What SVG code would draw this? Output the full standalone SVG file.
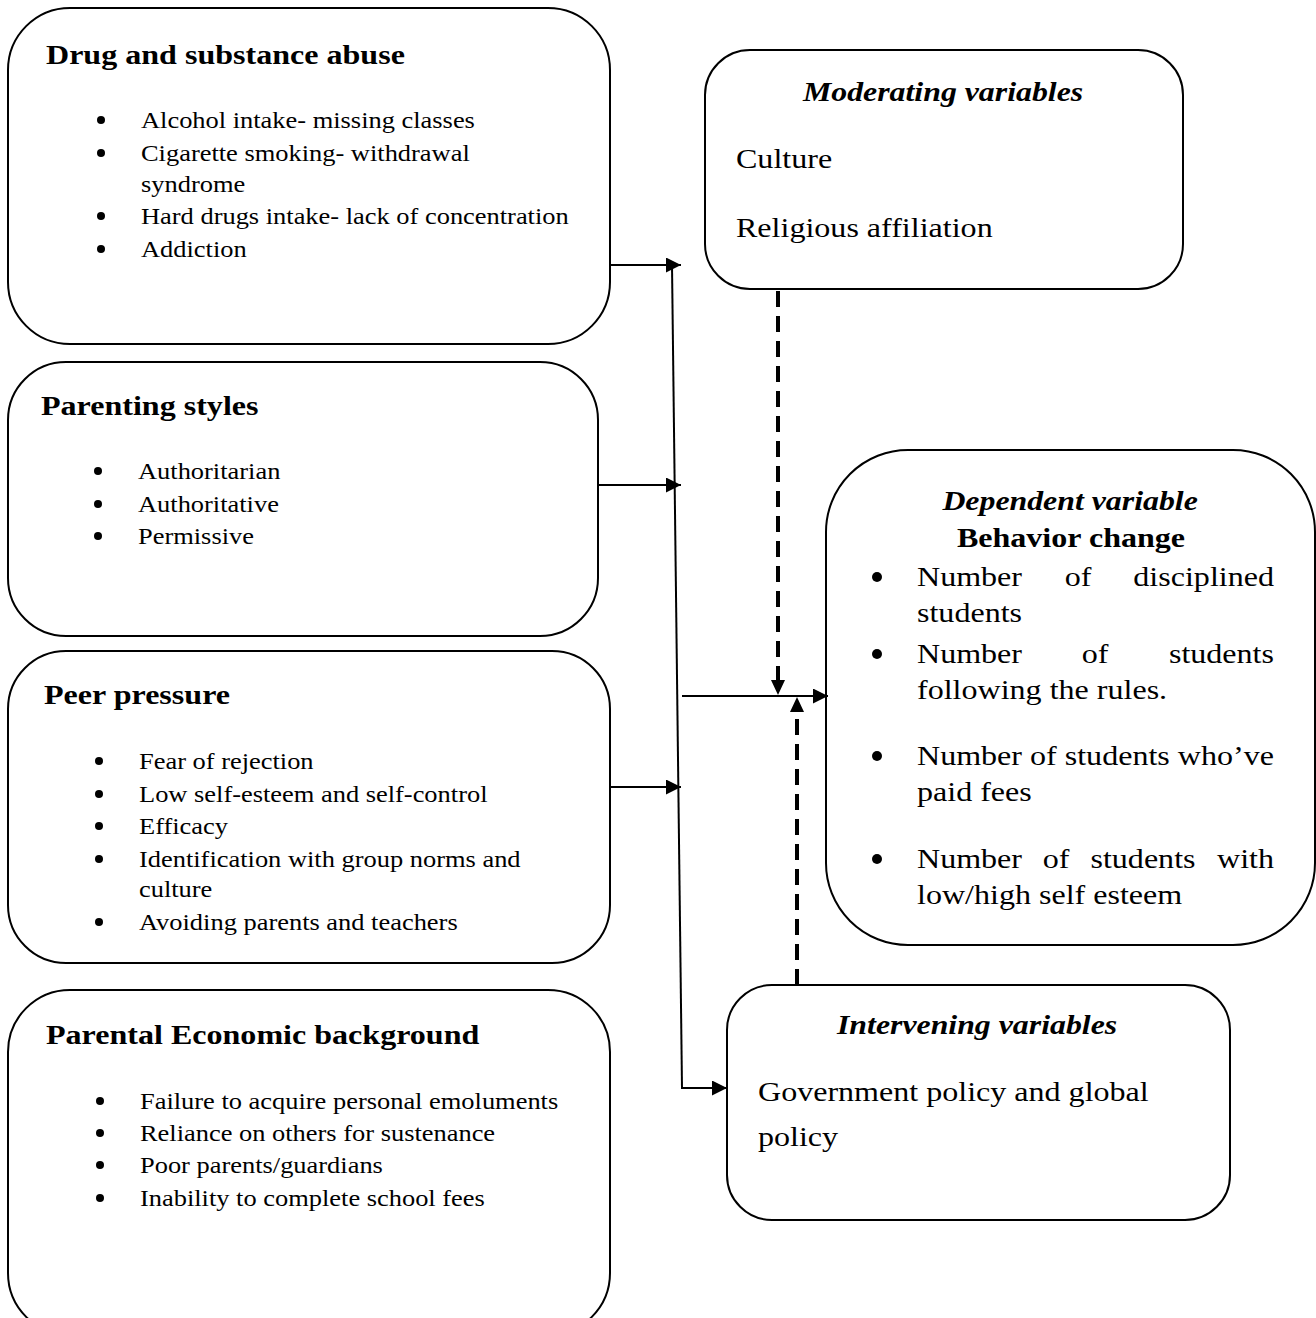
<svg xmlns="http://www.w3.org/2000/svg" width="1316" height="1318" viewBox="0 0 1316 1318">
<style>
.box{fill:#fff;stroke:#000;stroke-width:2}
text{font-family:"Liberation Serif","Times New Roman",serif;fill:#000;transform-box:fill-box;transform-origin:0 0;transform:scaleX(1.17)}
text.c{text-anchor:middle;transform-origin:50% 0}
text.e{text-anchor:end;transform-origin:100% 0}
.h{font-size:27.4px;font-weight:bold}
.b{font-size:22.6px}
.m{font-size:27.4px}
.hi{font-size:27.2px;font-weight:bold;font-style:italic}
.dot{fill:#000}
.ln{stroke:#000;stroke-width:2;fill:none}
.dash{stroke:#000;stroke-width:4;fill:none;stroke-dasharray:16 9}
</style>
<defs>
<marker id="arr" markerUnits="userSpaceOnUse" markerWidth="16" markerHeight="16" refX="15" refY="7.5" orient="auto">
<path d="M0,0 L15,7.5 L0,15 Z" fill="#000"/>
</marker>
</defs>
<rect width="1316" height="1318" fill="#fff"/>

<g id="drug">
<rect class="box" x="8" y="8" width="602" height="336" rx="62"/>
<text class="h" x="46" y="64">Drug and substance abuse</text>
<circle class="dot" cx="101" cy="120" r="4"/><text class="b" x="141" y="128">Alcohol intake- missing classes</text>
<circle class="dot" cx="101" cy="153" r="4"/><text class="b" x="141" y="161">Cigarette smoking- withdrawal</text>
<text class="b" x="141" y="192">syndrome</text>
<circle class="dot" cx="101" cy="216" r="4"/><text class="b" x="141" y="224">Hard drugs intake- lack of concentration</text>
<circle class="dot" cx="101" cy="249" r="4"/><text class="b" x="141" y="257">Addiction</text>
</g>

<g id="parenting">
<rect class="box" x="8" y="362" width="590" height="274" rx="58"/>
<text class="h" x="41" y="415">Parenting styles</text>
<circle class="dot" cx="98" cy="471" r="4"/><text class="b" x="138" y="479">Authoritarian</text>
<circle class="dot" cx="98" cy="504" r="4"/><text class="b" x="138" y="512">Authoritative</text>
<circle class="dot" cx="98" cy="536" r="4"/><text class="b" x="138" y="544">Permissive</text>
</g>

<g id="peer">
<rect class="box" x="8" y="651" width="602" height="312" rx="58"/>
<text class="h" x="44" y="704">Peer pressure</text>
<circle class="dot" cx="99" cy="761" r="4"/><text class="b" x="139" y="769">Fear of rejection</text>
<circle class="dot" cx="99" cy="794" r="4"/><text class="b" x="139" y="802">Low self-esteem and self-control</text>
<circle class="dot" cx="99" cy="826" r="4"/><text class="b" x="139" y="834">Efficacy</text>
<circle class="dot" cx="99" cy="859" r="4"/><text class="b" x="139" y="867">Identification with group norms and</text>
<text class="b" x="139" y="897">culture</text>
<circle class="dot" cx="99" cy="922" r="4"/><text class="b" x="139" y="930">Avoiding parents and teachers</text>
</g>

<g id="economic">
<rect class="box" x="8" y="990" width="602" height="345" rx="62"/>
<text class="h" x="46" y="1044">Parental Economic background</text>
<circle class="dot" cx="100" cy="1101" r="4"/><text class="b" x="140" y="1109">Failure to acquire personal emoluments</text>
<circle class="dot" cx="100" cy="1133" r="4"/><text class="b" x="140" y="1141">Reliance on others for sustenance</text>
<circle class="dot" cx="100" cy="1165" r="4"/><text class="b" x="140" y="1173">Poor parents/guardians</text>
<circle class="dot" cx="100" cy="1198" r="4"/><text class="b" x="140" y="1206">Inability to complete school fees</text>
</g>

<g id="moderating">
<rect class="box" x="705" y="50" width="478" height="239" rx="45"/>
<text class="hi c" x="943" y="101">Moderating variables</text>
<text class="m" x="736" y="168">Culture</text>
<text class="m" x="736" y="237">Religious affiliation</text>
</g>

<g id="dependent">
<rect class="box" x="826" y="450" width="489" height="495" rx="82"/>
<text class="hi c" x="1070" y="510">Dependent variable</text>
<text class="h c" x="1071" y="547">Behavior change</text>
<circle class="dot" cx="877" cy="577" r="5"/>
<text class="m" x="917" y="586">Number</text><text class="m c" x="1078" y="586">of</text><text class="m e" x="1274" y="586">disciplined</text>
<text class="m" x="917" y="622">students</text>
<circle class="dot" cx="877" cy="654" r="5"/>
<text class="m" x="917" y="663">Number</text><text class="m c" x="1095" y="663">of</text><text class="m e" x="1274" y="663">students</text>
<text class="m" x="917" y="699">following the rules.</text>
<circle class="dot" cx="877" cy="756" r="5"/>
<text class="m" x="917" y="765">Number of students who’ve</text>
<text class="m" x="917" y="801">paid fees</text>
<circle class="dot" cx="877" cy="859" r="5"/>
<text class="m" x="917" y="868">Number</text><text class="m c" x="1056" y="868">of</text><text class="m c" x="1143" y="868">students</text><text class="m e" x="1274" y="868">with</text>
<text class="m" x="917" y="904">low/high self esteem</text>
</g>

<g id="intervening">
<rect class="box" x="727" y="985" width="503" height="235" rx="45"/>
<text class="hi c" x="977" y="1034">Intervening variables</text>
<text class="m" x="758" y="1101">Government policy and global</text>
<text class="m" x="758" y="1146">policy</text>
</g>

<g id="connectors">
<line class="ln" x1="610" y1="265" x2="681" y2="265" marker-end="url(#arr)"/>
<line class="ln" x1="598" y1="485" x2="681" y2="485" marker-end="url(#arr)"/>
<line class="ln" x1="610" y1="787" x2="681" y2="787" marker-end="url(#arr)"/>
<line class="ln" x1="672" y1="265" x2="682" y2="1088"/>
<line class="ln" x1="681" y1="1088" x2="727" y2="1088" marker-end="url(#arr)"/>
<line class="ln" x1="682" y1="696" x2="828" y2="696" marker-end="url(#arr)"/>
<line class="dash" x1="778" y1="291" x2="778" y2="680"/>
<path d="M771,680 L785,680 L778,695 Z" fill="#000"/>
<line class="dash" x1="797" y1="985" x2="797" y2="712"/>
<path d="M790,712 L804,712 L797,697 Z" fill="#000"/>
</g>
</svg>
